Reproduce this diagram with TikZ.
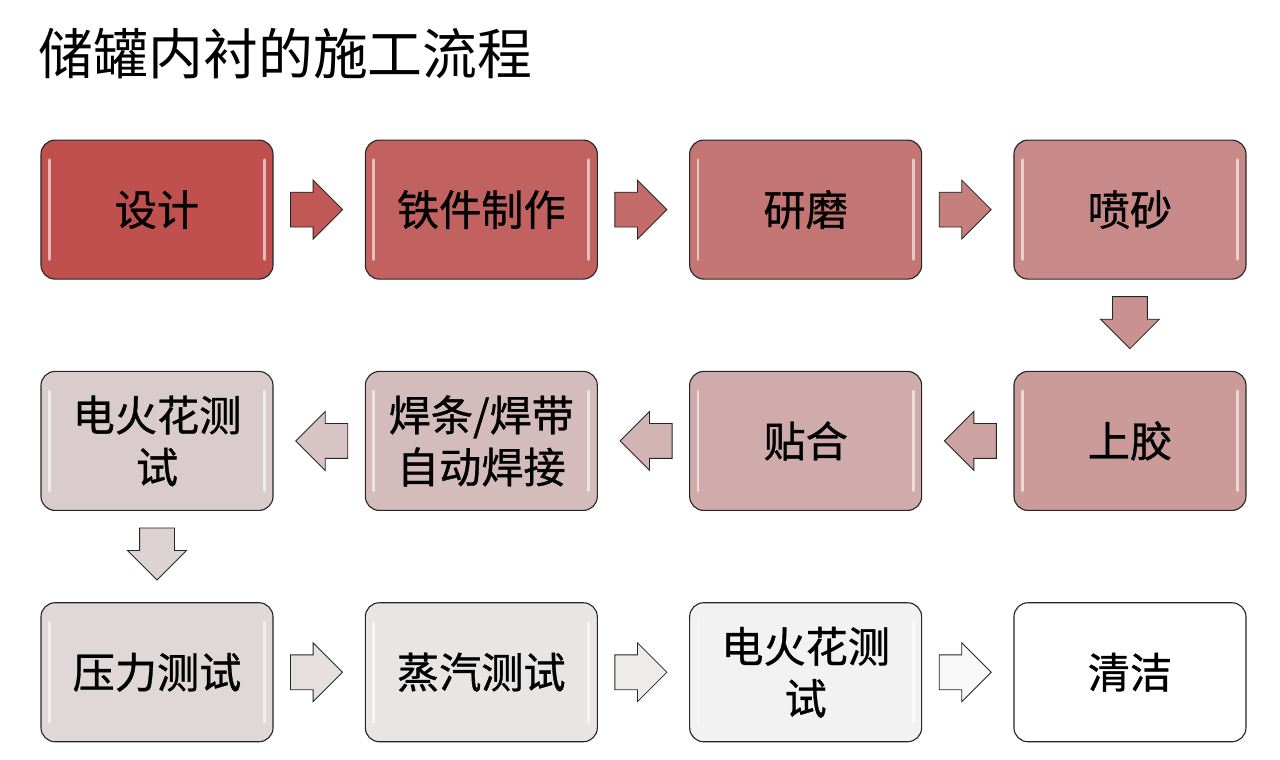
\documentclass[tikz,border=0pt]{standalone}
\usepackage{fontspec}
\newfontfamily\cjk{Noto Sans CJK SC}
\newfontfamily\cjkbox[FakeBold=0.8]{Noto Sans CJK SC}
\usetikzlibrary{positioning,shapes.arrows,calc}

\definecolor{step1}{RGB}{192,80,77}
\definecolor{step2}{RGB}{193,98,96}
\definecolor{step3}{RGB}{196,118,116}
\definecolor{step4}{RGB}{199,138,136}
\definecolor{step5}{RGB}{203,155,154}
\definecolor{step6}{RGB}{207,172,171}
\definecolor{step7}{RGB}{212,188,188}
\definecolor{step8}{RGB}{218,204,204}
\definecolor{step9}{RGB}{224,216,216}
\definecolor{step10}{RGB}{233,229,229}
\definecolor{step11}{RGB}{243,242,242}
\definecolor{step12}{RGB}{255,255,255}

\tikzset{
	stepbox/.style={
		draw=black!85, line width=0.8pt, rounded corners=10pt,
		minimum width=5.8cm, minimum height=3.475cm, align=center,
		font=\cjkbox\fontsize{30}{37}\selectfont,
		path picture={
			\draw[white, opacity=0.6, line width=2pt, line cap=round]
				([xshift=6pt,yshift=-14pt]path picture bounding box.north west) --
				([xshift=6pt,yshift=14pt]path picture bounding box.south west)
				([xshift=-6pt,yshift=-14pt]path picture bounding box.north east) --
				([xshift=-6pt,yshift=14pt]path picture bounding box.south east);
		}
	},
	flowarrow/.style={
		single arrow, draw=black!85, line width=0.6pt,
		minimum height=1.3cm, anchor=tip,
		single arrow head extend=0.3cm
	},
	flow h/.style={inner xsep=0pt, inner ysep=0.425cm},
	flow v/.style={inner xsep=0.425cm, inner ysep=0pt}
}

\begin{document}
\begin{tikzpicture}
	\useasboundingbox (0,0) rectangle (32,-19);
	\node[anchor=west, font=\cjk\fontsize{39}{46}\selectfont] (title) at (0.85,-1.35) {储罐内衬的施工流程};

	% row 1
	\node[stepbox, fill=step1] (b1) at (3.925,-5.24) {设计};
	\node[stepbox, fill=step2, right=2.28cm of b1] (b2) {铁件制作};
	\node[stepbox, fill=step3, right=2.28cm of b2] (b3) {研磨};
	\node[stepbox, fill=step4, right=2.28cm of b3] (b4) {喷砂};
	% row 2
	\node[stepbox, fill=step5, below=2.28cm of b4] (b5) {上胶};
	\node[stepbox, fill=step6, left=2.28cm of b5] (b6) {贴合};
	\node[stepbox, fill=step7, left=2.28cm of b6] (b7) {焊条/焊带\\自动焊接};
	\node[stepbox, fill=step8, left=2.28cm of b7] (b8) {电火花测\\试};
	% row 3
	\node[stepbox, fill=step9, below=2.28cm of b8] (b9) {压力测试};
	\node[stepbox, fill=step10, right=2.28cm of b9] (b10) {蒸汽测试};
	\node[stepbox, fill=step11, right=2.28cm of b10] (b11) {电火花测\\试};
	\node[stepbox, fill=step12, right=2.28cm of b11] (b12) {清洁};

	\foreach \A/\B/\R/\D in {1/2/0/h, 2/3/0/h, 3/4/0/h, 4/5/270/v, 5/6/180/h, 6/7/180/h,
		7/8/180/h, 8/9/270/v, 9/10/0/h, 10/11/0/h, 11/12/0/h}{
		\node[flowarrow, flow \D, shape border rotate=\R, fill=step\B!50!step\A]
			(a\A) at ($($(b\A)!0.5!(b\B)$)!0.6cm!(b\B)$) {};
	}
\end{tikzpicture}
\end{document}
